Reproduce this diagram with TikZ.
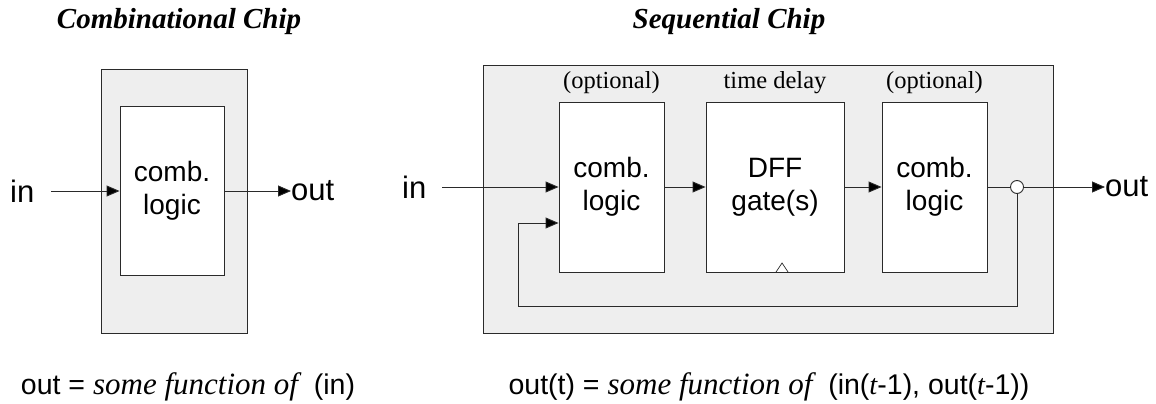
\documentclass[tikz,border=0pt]{standalone}
\usepackage{fontspec}
\setmainfont{Liberation Serif}
\setsansfont{Liberation Sans}
\usetikzlibrary{arrows.meta}
\definecolor{chipgray}{HTML}{EEEEEE}
\definecolor{linegray}{HTML}{2A2A2A}
\tikzset{
  chip/.style={draw=linegray, fill=chipgray, line width=0.9pt, minimum width=#1, inner sep=0pt},
  logicbox/.style={draw=linegray, fill=white, line width=0.9pt, inner sep=0pt, align=center,
     font=\sffamily\fontsize{28}{33}\selectfont},
  wire/.style={draw=linegray, line width=0.9pt},
  arr/.style={wire, -{Triangle[length=13pt,width=11pt,fill=black]}},
  pinlabel/.style={font=\sffamily\fontsize{31}{36}\selectfont, inner sep=0pt},
  boxnote/.style={font=\fontsize{24.5}{28}\selectfont, inner sep=0pt},
  title/.style={font=\bfseries\itshape\fontsize{29}{34}\selectfont, inner sep=0pt},
  formula/.style={font=\sffamily\fontsize{28.5}{32}\selectfont, inner sep=0pt}
}
\newcommand{\sfun}{{\rmfamily\itshape\fontsize{31}{32}\selectfont some function of}}
\newcommand{\tv}{{\rmfamily\itshape t}}
\begin{document}
\begin{tikzpicture}[x=1pt,y=-1pt]
\useasboundingbox (0,0) rectangle (1156,404);
% ---------- combinational ----------
\node[title] (t1) at (179,22) {Combinational Chip};
\node[chip=146pt, minimum height=264pt] (c1) at (174,201) {};
\node[logicbox, minimum width=104pt, minimum height=169pt] (cl) at (172,190.5) {comb.\\logic};
\node[pinlabel, anchor=west] (in1) at (10,191) {in};
\node[pinlabel, anchor=west] (out1) at (291,191) {out};
\coordinate (in1s) at (51,191);
\draw[arr] (in1s) -- (in1s -| cl.west);
\draw[arr] (cl.east |- in1s) -- (out1.west |- in1s);
\node[formula] (f1) at (188,387) {out = \sfun\ \ (in)};
% ---------- sequential ----------
\node[title] (t2) at (729,22) {Sequential Chip};
\node[chip=570pt, minimum height=268pt] (c2) at (768,199) {};
\node[logicbox, minimum width=105pt, minimum height=170pt] (b1) at (611.5,187) {comb.\\logic};
\node[logicbox, minimum width=138pt, minimum height=170pt] (b2) at (775,187) {DFF\\gate(s)};
\node[logicbox, minimum width=105pt, minimum height=170pt] (b3) at (934.5,187) {comb.\\logic};
\node[boxnote] (n1) at (611.5,83) {(optional)};
\node[boxnote] (n2) at (775,83) {time delay};
\node[boxnote] (n3) at (934.5,83) {(optional)};
\node[pinlabel, anchor=west] (in2) at (402,187) {in};
\node[pinlabel, anchor=west] (out2) at (1105,187) {out};
\node[draw=linegray, fill=white, line width=0.9pt, circle, minimum size=13pt, inner sep=0pt] (jn) at (1017,187) {};
\coordinate (in2s) at (442,187);
\coordinate (fbr) at (1017,306);
\coordinate (fbl) at (518,306);
\coordinate (fbu) at (518,223);
\draw[arr] (in2s) -- (in2s -| b1.west);
\draw[arr] (b1.east |- in2s) -- (b2.west |- in2s);
\draw[arr] (b2.east |- in2s) -- (b3.west |- in2s);
\draw[wire] (b3.east |- jn) -- (jn.west);
\draw[arr] (jn.east) -- (out2.west |- jn);
\draw[arr] (jn.south) -- (fbr) -- (fbl) -- (fbu) -- (fbu -| b1.west);
% clock triangle
\coordinate (clk) at (782,272);
\draw[wire, line width=0.7pt] ([xshift=-6pt]clk) -- ([yshift=9pt]clk) -- ([xshift=6pt]clk);
\node[formula] (f2) at (769,387) {out(t) = \sfun\ \ (in(\tv-1), out(\tv-1))};
\end{tikzpicture}
\end{document}
